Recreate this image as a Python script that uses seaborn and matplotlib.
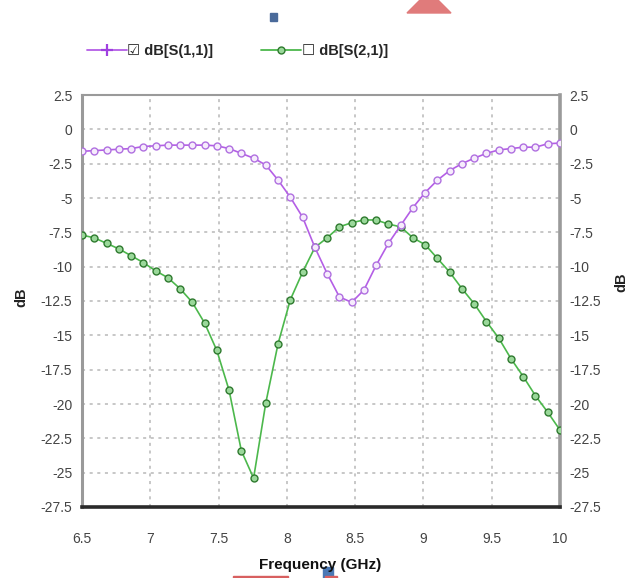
import numpy as np
import pandas as pd
import matplotlib
matplotlib.use("Agg")
import matplotlib.pyplot as plt
from matplotlib.lines import Line2D
from matplotlib.patches import Polygon, Rectangle
import seaborn as sns

# Frequency sweep, 40 points from 6.5 to 10 GHz
freq_ghz = np.linspace(6.5, 10.0, 40)

s11_db = [-1.6, -1.55, -1.5, -1.45, -1.4, -1.25, -1.2, -1.15, -1.15, -1.15,
          -1.15, -1.2, -1.4, -1.75, -2.1, -2.6, -3.7, -4.95, -6.4, -8.6,
          -10.5, -12.2, -12.6, -11.7, -9.9, -8.3, -7.0, -5.7, -4.6, -3.7,
          -3.0, -2.5, -2.1, -1.75, -1.5, -1.4, -1.3, -1.3, -1.05, -1.0]

s21_db = [-7.7, -7.9, -8.3, -8.7, -9.2, -9.7, -10.3, -10.8, -11.6, -12.6,
          -14.1, -16.1, -19.0, -23.4, -25.4, -19.9, -15.6, -12.4, -10.4, -8.6,
          -7.9, -7.1, -6.8, -6.6, -6.6, -6.9, -7.1, -7.9, -8.4, -9.4,
          -10.4, -11.6, -12.7, -14.0, -15.2, -16.7, -18.0, -19.4, -20.6, -21.9]

x_ticks = [6.5, 7, 7.5, 8, 8.5, 9, 9.5, 10]
x_tick_labels = ["6.5", "7", "7.5", "8", "8.5", "9", "9.5", "10"]
y_ticks = [2.5, 0, -2.5, -5, -7.5, -10, -12.5, -15, -17.5, -20, -22.5, -25, -27.5]
y_tick_labels = ["2.5", "0", "-2.5", "-5", "-7.5", "-10", "-12.5", "-15",
                 "-17.5", "-20", "-22.5", "-25", "-27.5"]

series_names = ["dB[S(1,1)]", "dB[S(2,1)]"]

sns.set_theme(style="white")
fam = ["Liberation Sans", "DejaVu Sans"]
plt.rcParams["font.family"] = fam

W, H = 628, 578
fig = plt.figure(figsize=(W / 100, H / 100), dpi=100)
ax = fig.add_axes([82 / W, 1 - 507 / H, (560 - 82) / W, (507 - 95) / H])

df11 = pd.DataFrame({"f": freq_ghz, "dB": s11_db})
df21 = pd.DataFrame({"f": freq_ghz, "dB": s21_db})

purple = "#b45ee6"
green = "#4cb84c"

sns.lineplot(data=df11, x="f", y="dB", ax=ax, color=purple, linewidth=1.2,
             marker="o", markersize=5, markerfacecolor="#f6ecfc",
             markeredgecolor="#b070e0", markeredgewidth=1.0, zorder=4)
sns.lineplot(data=df21, x="f", y="dB", ax=ax, color=green, linewidth=1.2,
             marker="o", markersize=5, markerfacecolor="#9ad89a",
             markeredgecolor="#2f7a2f", markeredgewidth=1.0, zorder=3)

ax.set_xlim(6.5, 10)
ax.set_ylim(-27.5, 2.5)
ax.set_xticks(x_ticks)
ax.set_xticklabels(x_tick_labels)
ax.set_yticks(y_ticks)
ax.set_yticklabels(y_tick_labels)
ax.set_xlabel("")
ax.set_ylabel("")

ax.grid(True, linestyle=(0, (2, 3)), color="#b8b8b8", linewidth=1.1)
ax.set_axisbelow(True)

ax.tick_params(axis="both", which="both", length=0, labelsize=10,
               labelcolor="#444444")
ax.tick_params(axis="y", labelright=True, right=False, pad=7)
ax.tick_params(axis="x", pad=18)

for side in ["left", "right", "top"]:
    ax.spines[side].set_color("#9a9a9a")
ax.spines["left"].set_linewidth(2.2)
ax.spines["right"].set_linewidth(2.6)
ax.spines["top"].set_linewidth(1.5)
ax.spines["bottom"].set_color("#2a2a2a")
ax.spines["bottom"].set_linewidth(2.6)

# Axis titles
fig.text(21 / W, 1 - 297 / H, "dB", rotation=90, ha="center", va="center",
         fontsize=10.5, fontweight="bold", color="#222222")
fig.text(621 / W, 1 - 282 / H, "dB", rotation=90, ha="center", va="center",
         fontsize=10.5, fontweight="bold", color="#222222")
fig.text(320 / W, 1 - 565 / H, "Frequency (GHz)", ha="center", va="center",
         fontsize=11, fontweight="bold", color="#111111")

# Legend with check boxes
handles = [
    Line2D([], [], color=purple, linewidth=1.3, marker="+", markersize=8,
           markeredgewidth=1.6, markeredgecolor="#a040e0"),
    Line2D([], [], color=green, linewidth=1.3, marker="o", markersize=5,
           markerfacecolor="#9ad89a", markeredgecolor="#2f7a2f"),
]
labels = ["\u2611 " + series_names[0], "\u2610 " + series_names[1]]
fig.legend(handles, labels, loc="center left", ncol=2, frameon=False,
           bbox_to_anchor=(74 / W, 1 - 51 / H), handlelength=2.7,
           handletextpad=0.05, columnspacing=3.3,
           prop={"family": fam, "weight": "bold", "size": 10.5})

# Small page decorations
fig.patches.append(Rectangle((270 / W, 1 - 21 / H), 7 / W, 8 / H,
                             transform=fig.transFigure, color="#4a6a9a"))
fig.patches.append(Polygon([(407 / W, 1 - 13 / H), (451 / W, 1 - 13 / H),
                            (438 / W, 1.0), (420 / W, 1.0)],
                           closed=True, transform=fig.transFigure,
                           color="#e07b7b"))
fig.patches.append(Rectangle((233 / W, 1 - 578 / H), 55 / W, 2.5 / H,
                             transform=fig.transFigure, color="#d86060"))
fig.patches.append(Rectangle((323 / W, 1 - 578 / H), 10 / W, 11 / H,
                             transform=fig.transFigure, color="#4a78b5"))
fig.patches.append(Rectangle((325 / W, 1 - 578 / H), 12 / W, 2.5 / H,
                             transform=fig.transFigure, color="#d86060"))

fig.savefig("out.png", dpi=100)
